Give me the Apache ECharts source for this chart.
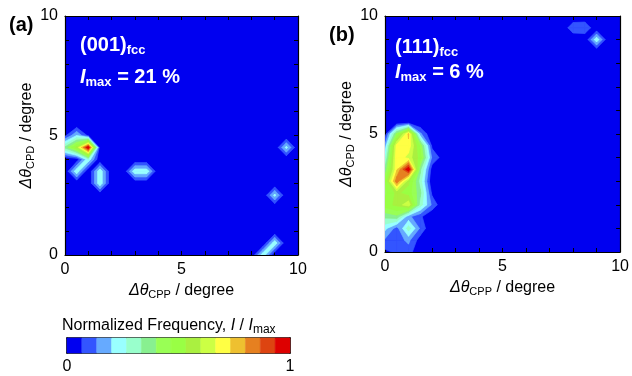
<!DOCTYPE html>
<html><head><meta charset="utf-8">
<script src="https://cdn.jsdelivr.net/npm/echarts@6/dist/echarts.min.js"></script>
<style>html,body{margin:0;padding:0;background:#fff}#c{width:632px;height:376px}</style>
</head><body><div id="c"></div>
<script>
// ---------- data ----------
const gridStep = 0.5;          // node spacing in degrees
const axisMax = 10;
const labelTicks = [0, 5, 10];
const levelCount = 15;         // colour bands between 0 and 1
const bandColors = ['#0000F0','#3355FF','#66AAFF','#99FFFF','#99FFCC','#88F090','#99FF55','#99FF44',
                    '#AAF040','#CCFF44','#FFFF44','#EEC030','#E68020','#DD4411','#DD0000'];
// Panel (a) (001)fcc : non-zero nodes [dCPP, dCPD, I/Imax]
const nodesA = [
  [0,5,0.05],[0.5,5,0.2],[1,5,0.05],
  [0,4.5,0.35],[0.5,4.5,0.55],[1,4.5,1.0],
  [0.5,4,0.02],[1,4,0.25],
  [0.5,3.5,0.25],
  [1.5,3.5,0.25],[1.5,3,0.25],
  [3,3.5,0.25],[3.5,3.5,0.25],
  [9.5,4.5,0.22],[9,2.5,0.22],[9,0.5,0.25],[8.5,0,0.25]
];
// Panel (b) (111)fcc
const nodesB = [
  [0,5,0.03],[0.5,5,0.42],[1,5,0.75],[1.5,5,0.15],
  [0,4.5,0.15],[0.5,4.5,0.7],[1,4.5,0.71],[1.5,4.5,0.45],[2,4.5,0.05],
  [0,4,0.25],[0.5,4,0.72],[1,4,0.64],[1.5,4,0.5],[2,4,0.12],[2.5,4,0.03],
  [0,3.5,0.35],[0.5,3.5,0.72],[1,3.5,1.0],[1.5,3.5,0.35],[2,3.5,0.03],
  [0,3,0.45],[0.5,3,0.85],[1,3,0.55],[1.5,3,0.3],
  [0,2.5,0.45],[0.5,2.5,0.55],[1,2.5,0.5],[1.5,2.5,0.35],[2,2.5,0.05],
  [0,2,0.5],[0.5,2,0.55],[1,2,0.65],[1.5,2,0.3],[2,2,0.12],
  [0,1.5,0.35],[0.5,1.5,0.38],[1,1.5,0.15],[1.5,1.5,0.08],
  [0,1,0.22],[0.5,1,0.1],[1,1,0.3],[1.5,1,0.12],
  [0,0.5,0.12],[0.5,0.5,0.1],[1,0.5,0.15],[1.5,0.5,0.03],
  [0,0,0.05],[0.5,0,0.08],[1,0,0.1],
  [8,9.5,0.12],[8.5,9.5,0.13],[9,9,0.25]
];
const panelLetters = ['(a)', '(b)'];
const planeLabels = ['(001)', '(111)'];
const imaxLabels = ['21 %', '6 %'];
const colorbarTicks = ['0', '1'];

// ---------- contour construction (marching squares, painter's bands) ----------
const FONT = 'Liberation Sans, Arial, sans-serif';
function buildGrid(nodes) {
  const n = Math.round(axisMax / gridStep) + 1, g = [];
  for (let j = 0; j < n; j++) g.push(new Array(n).fill(0));
  nodes.forEach(([x, y, v]) => { g[Math.round(y / gridStep)][Math.round(x / gridStep)] = v; });
  return g;
}
function bandItems(nodes) {
  const g = buildGrid(nodes), n = g.length, items = [];
  for (let k = 1; k < levelCount; k++) {
    const L = k / levelCount;
    for (let j = 0; j < n - 1; j++) for (let i = 0; i < n - 1; i++) {
      const x0 = i * gridStep, x1 = x0 + gridStep, y0 = j * gridStep, y1 = y0 + gridStep;
      const c = [[x0, y0, g[j][i]], [x1, y0, g[j][i + 1]], [x1, y1, g[j + 1][i + 1]], [x0, y1, g[j + 1][i]]];
      const up = c.map(p => p[2] >= L);
      if (!up.some(Boolean)) continue;
      const cross = [];
      for (let m = 0; m < 4; m++) {
        const a = c[m], b = c[(m + 1) % 4];
        if (up[m] !== up[(m + 1) % 4]) {
          const t = (L - a[2]) / (b[2] - a[2]);
          cross[m] = [a[0] + t * (b[0] - a[0]), a[1] + t * (b[1] - a[1])];
        }
      }
      // saddle with the two high corners on the "\" diagonal: keep them apart
      if (up[1] && up[3] && !up[0] && !up[2]) {
        [1, 3].forEach(m => items.push({ k, poly: [cross[(m + 3) % 4], [c[m][0], c[m][1]], cross[m]] }));
        continue;
      }
      const poly = [];
      for (let m = 0; m < 4; m++) {
        if (up[m]) poly.push([c[m][0], c[m][1]]);
        if (cross[m]) poly.push(cross[m]);
      }
      items.push({ poly, k });
    }
  }
  return items;
}
function contourSeries(nodes, axisIdx) {
  const items = bandItems(nodes);
  return {
    type: 'custom', xAxisIndex: axisIdx, yAxisIndex: axisIdx, clip: true, silent: true,
    data: items.map(it => [it.poly[0][0], it.poly[0][1]]),
    encode: { x: 0, y: 1 },
    renderItem: (params, api) => {
      const it = items[params.dataIndex];
      const col = bandColors[it.k];
      return { type: 'polygon', z2: it.k,
        shape: { points: it.poly.map(p => api.coord(p)) },
        style: { fill: col, stroke: col, lineWidth: 0.7 } };
    }
  };
}

// ---------- axes ----------
const rich = (size) => ({
  i: { fontStyle: 'italic', fontSize: size, lineHeight: 20, fontFamily: FONT, color: '#000' },
  s: { fontSize: 11, lineHeight: 9, verticalAlign: 'bottom', fontFamily: FONT, color: '#000' },
  n: { fontSize: size, lineHeight: 20, fontFamily: FONT, color: '#000' }
});
function valueAxis(grid, pos, opts) {
  const labelled = pos === 'bottom' || pos === 'left';
  return Object.assign({
    type: 'value', gridIndex: grid, position: pos, min: 0, max: axisMax, interval: 1,
    axisLine: { show: true, onZero: false, lineStyle: { color: '#000', width: 1.2 } },
    axisTick: { show: true, inside: true, length: 4, lineStyle: { color: '#000' } },
    splitLine: { show: false },
    axisLabel: { show: labelled, fontSize: 16, color: '#000', fontFamily: FONT, margin: 7,
      formatter: v => labelTicks.includes(v) ? String(v) : '' }
  }, opts || {});
}
const xName = '{i|Δθ}{s|CPP}{n| / degree}';
const yName = '{i|Δθ}{s|CPD}{n| / degree}';
const xNameOpts = { name: xName, nameLocation: 'middle', nameGap: 24, nameTextStyle: { fontSize: 16, fontFamily: FONT, rich: rich(16) } };
const yNameOpts = { name: yName, nameLocation: 'middle', nameGap: 28, nameRotate: 90, nameTextStyle: { fontSize: 16, fontFamily: FONT, rich: rich(16) } };

const cbAxisLine = { show: true, onZero: false, lineStyle: { color: '#000', width: 1.6 } };
const xAxes = [
  valueAxis(0, 'bottom', xNameOpts), valueAxis(0, 'top'),
  valueAxis(1, 'bottom', xNameOpts), valueAxis(1, 'top'),
  { type: 'value', gridIndex: 2, position: 'bottom', min: 0, max: 1, interval: 1,
    axisLine: cbAxisLine, axisTick: { show: false }, splitLine: { show: false },
    axisLabel: { fontSize: 16, color: '#000', fontFamily: FONT, margin: 6, formatter: v => colorbarTicks[v] } },
  { type: 'value', gridIndex: 2, position: 'top', min: 0, max: 1, axisLine: cbAxisLine,
    axisTick: { show: false }, axisLabel: { show: false }, splitLine: { show: false } }
];
const yAxes = [
  valueAxis(0, 'left', yNameOpts), valueAxis(0, 'right'),
  valueAxis(1, 'left', yNameOpts), valueAxis(1, 'right'),
  { type: 'value', gridIndex: 2, position: 'left', min: 0, max: 1, axisLine: cbAxisLine,
    axisTick: { show: false }, axisLabel: { show: false }, splitLine: { show: false } },
  { type: 'value', gridIndex: 2, position: 'right', min: 0, max: 1, axisLine: cbAxisLine,
    axisTick: { show: false }, axisLabel: { show: false }, splitLine: { show: false } }
];

const colorbarSeries = {
  type: 'custom', xAxisIndex: 4, yAxisIndex: 4, silent: true,
  data: bandColors.map((c, k) => [k / levelCount, (k + 1) / levelCount]),
  encode: { x: [0, 1] },
  renderItem: (params, api) => {
    const p0 = api.coord([api.value(0), 0]), p1 = api.coord([api.value(1), 1]);
    const col = bandColors[params.dataIndex];
    return { type: 'rect', shape: { x: p0[0], y: p1[1], width: p1[0] - p0[0], height: p0[1] - p1[1] },
      style: { fill: col, stroke: col, lineWidth: 0.5 } };
  }
};

// ---------- text overlays ----------
const whiteRich = {
  b: { fontSize: 20, fontWeight: 'bold', fontFamily: FONT, fill: '#fff', lineHeight: 24 },
  bi: { fontSize: 20, fontWeight: 'bold', fontStyle: 'italic', fontFamily: FONT, fill: '#fff', lineHeight: 24 },
  s: { fontSize: 13, fontWeight: 'bold', fontFamily: FONT, fill: '#fff', lineHeight: 12, verticalAlign: 'bottom' }
};
function txt(x, y, text, richDef) {
  return { type: 'text', x, y, z: 100, silent: true,
    style: { text, rich: richDef, verticalAlign: 'middle' } };
}
const letterRich = { b: { fontSize: 20, fontWeight: 'bold', fontFamily: FONT, fill: '#000' } };
const cbRich = {
  n: { fontSize: 16, fontFamily: FONT, fill: '#000', lineHeight: 20 },
  i: { fontSize: 16, fontStyle: 'italic', fontFamily: FONT, fill: '#000', lineHeight: 20 },
  s: { fontSize: 12, fontFamily: FONT, fill: '#000', lineHeight: 10, verticalAlign: 'bottom' }
};
const graphics = [
  txt(9, 25, '{b|' + panelLetters[0] + '}', letterRich),
  txt(329, 35, '{b|' + panelLetters[1] + '}', letterRich),
  txt(80, 45, '{b|' + planeLabels[0] + '}{s|fcc}', whiteRich),
  txt(80, 77, '{bi|I}{s|max}{b| = ' + imaxLabels[0] + '}', whiteRich),
  txt(395, 47, '{b|' + planeLabels[1] + '}{s|fcc}', whiteRich),
  txt(395, 72, '{bi|I}{s|max}{b| = ' + imaxLabels[1] + '}', whiteRich),
  txt(62, 326, '{n|Normalized Frequency, }{i|I}{n| / }{i|I}{s|max}', cbRich)
];

const chart = echarts.init(document.getElementById('c'), null, { renderer: 'canvas' });
const seriesA = contourSeries(nodesA, 0);
const seriesB = contourSeries(nodesB, 2);
chart.setOption({
  animation: false,
  backgroundColor: '#fff',
  grid: [
    { left: 65, top: 16, width: 233, height: 239, show: true, backgroundColor: bandColors[0], borderWidth: 0 },
    { left: 385, top: 16, width: 236, height: 236, show: true, backgroundColor: bandColors[0], borderWidth: 0 },
    { left: 67, top: 338, width: 223, height: 15, show: false }
  ],
  xAxis: xAxes,
  yAxis: yAxes,
  series: [seriesA, seriesB, colorbarSeries],
  graphic: graphics
});
</script></body></html>
